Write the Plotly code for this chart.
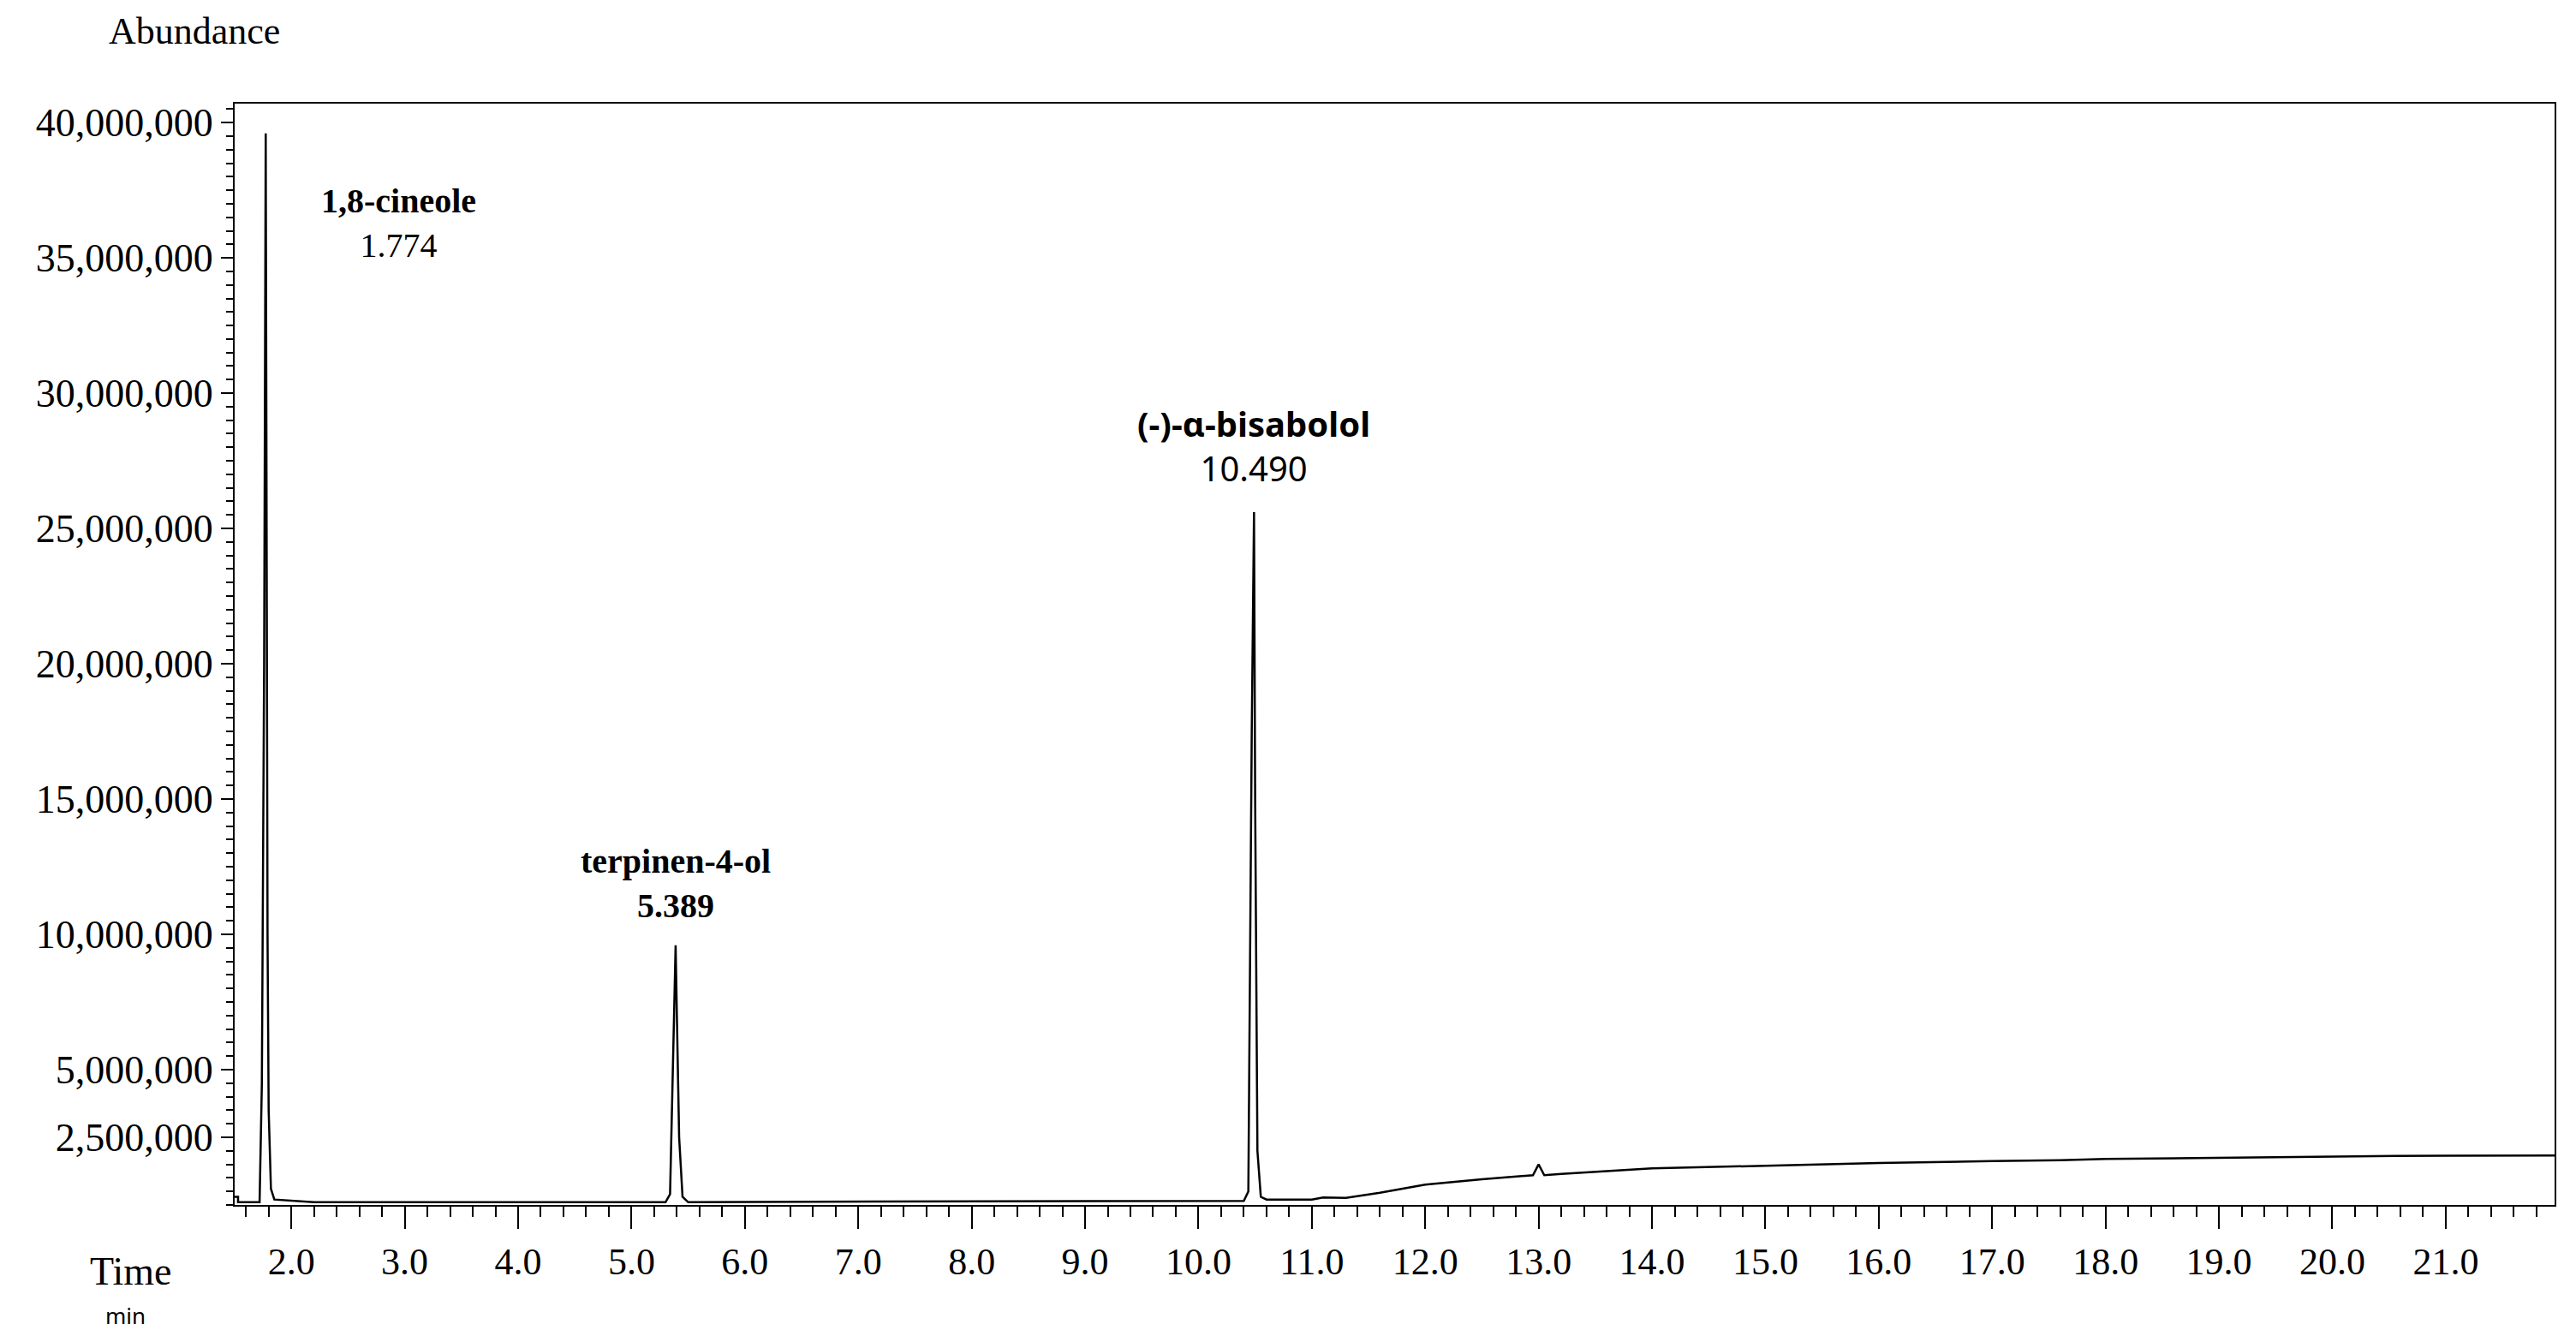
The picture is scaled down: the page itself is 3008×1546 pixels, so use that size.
import plotly.graph_objects as go

# chromatogram (time in min, abundance in counts)
time = [1.50, 1.53, 1.53, 1.72, 1.74, 1.76, 1.774, 1.79, 1.80, 1.82, 1.85, 2.2, 2.5,
        5.30, 5.34, 5.37, 5.389, 5.40, 5.42, 5.45, 5.50, 6.6, 9.8,
        10.40, 10.44, 10.47, 10.49, 10.50, 10.52, 10.55, 10.6, 11.0, 11.1, 11.3,
        11.6, 12.0, 12.5, 12.95, 13.0, 13.05, 13.2, 14.0, 15.0, 16.0, 17.0, 17.6,
        18.0, 19.0, 20.0, 20.2, 21.0, 21.96]
abundance = [300000, 300000, 100000, 100000, 4500000, 20000000, 39600000, 10000000, 3500000,
             600000, 200000, 100000, 100000,
             100000, 400000, 6000000, 9600000, 7000000, 2500000, 300000, 100000, 120000, 130000,
             150000, 500000, 17500000, 25600000, 15000000, 2000000, 300000, 200000, 200000,
             280000, 260000, 450000, 750000, 950000, 1100000, 1500000, 1100000, 1150000,
             1350000, 1450000, 1550000, 1620000, 1650000, 1700000, 1750000, 1780000,
             1800000, 1820000, 1830000]

y_ticks = [2500000, 5000000, 10000000, 15000000, 20000000, 25000000,
           30000000, 35000000, 40000000]
x_ticks = [2.0, 3.0, 4.0, 5.0, 6.0, 7.0, 8.0, 9.0, 10.0, 11.0, 12.0, 13.0, 14.0,
           15.0, 16.0, 17.0, 18.0, 19.0, 20.0, 21.0]

peaks = [
    ("1,8-cineole", "1.774", "Liberation Serif", False),
    ("terpinen-4-ol", "5.389", "Liberation Serif", True),
    ("(-)-α-bisabolol", "10.490", "Noto Sans", False),
]
label_x = [2.95, 5.389, 10.49]
label_y = [34700000, 10300000, 26300000]

serif = "Liberation Serif"

fig = go.Figure()
fig.add_trace(go.Scatter(x=time, y=abundance, mode='lines',
                         line=dict(color='black', width=2.5), showlegend=False))

for (name, rt, fnt, bold_rt), lx, ly in zip(peaks, label_x, label_y):
    rt_txt = "<b>" + rt + "</b>" if bold_rt else rt
    fig.add_annotation(x=lx, y=ly, text="<b>" + name + "</b><br>" + rt_txt,
                       showarrow=False, font=dict(family=fnt, size=40, color='black'),
                       align='center', yanchor='bottom')

fig.add_annotation(xref='paper', yref='paper', x=-0.055, y=1.045, text="Abundance",
                   showarrow=False, xanchor='left', yanchor='bottom',
                   font=dict(family=serif, size=44, color='black'))
fig.add_annotation(xref='paper', yref='paper', x=-0.045, y=-0.06, text="Time",
                   showarrow=False, xanchor='center', yanchor='middle',
                   font=dict(family=serif, size=46, color='black'))
fig.add_annotation(xref='paper', yref='paper', x=-0.047, y=-0.1, text="min",
                   showarrow=False, xanchor='center', yanchor='middle',
                   font=dict(family="Noto Sans", size=26, color='black'))

fig.update_xaxes(range=[1.5, 21.96], tickvals=x_ticks, ticktext=[f"{v:.1f}" for v in x_ticks],
                 ticks='outside', ticklen=26, tickwidth=2, tickcolor='black',
                 minor=dict(dtick=0.2, tick0=0, ticks='outside', ticklen=12, tickwidth=2, tickcolor='black'),
                 showline=True, linecolor='black', linewidth=2, mirror=True, showgrid=False,
                 zeroline=False, tickfont=dict(family=serif, size=44, color='black'))
fig.update_yaxes(range=[0, 40700000], tickvals=y_ticks, ticktext=[f"{v:,}" for v in y_ticks],
                 ticks='outside', ticklen=14, tickwidth=2, tickcolor='black',
                 minor=dict(dtick=500000, tick0=0, ticks='outside', ticklen=8, tickwidth=2, tickcolor='black'),
                 showline=True, linecolor='black', linewidth=2, mirror=True, showgrid=False,
                 zeroline=False, tickfont=dict(family=serif, size=46, color='black'))

fig.update_layout(width=3008, height=1546, plot_bgcolor='white', paper_bgcolor='white',
                  margin=dict(l=266, r=33, t=113, b=147))
fig.write_html("out.html")
